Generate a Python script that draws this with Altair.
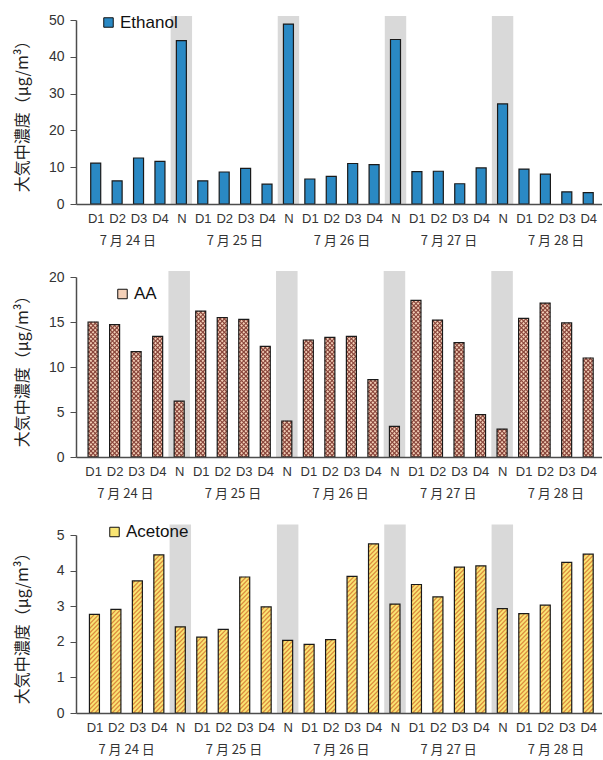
import json
import altair as alt
import pandas as pd

# ---------------- data ----------------
days = ["7 月 24 日", "7 月 25 日", "7 月 26 日", "7 月 27 日", "7 月 28 日"]
day_slots = [
    ["D1", "D2", "D3", "D4", "N"],
    ["D1", "D2", "D3", "D4", "N"],
    ["D1", "D2", "D3", "D4", "N"],
    ["D1", "D2", "D3", "D4", "N"],
    ["D1", "D2", "D3", "D4"],
]
ethanol = [11.1, 6.3, 12.5, 11.6, 44.4,
           6.3, 8.7, 9.7, 5.4, 48.9,
           6.8, 7.5, 11.0, 10.7, 44.7,
           8.8, 8.9, 5.5, 9.8, 27.2,
           9.5, 8.1, 3.3, 3.1]
aa = [15.0, 14.7, 11.7, 13.4, 6.2,
      16.2, 15.5, 15.3, 12.3, 4.0,
      13.0, 13.3, 13.4, 8.6, 3.4,
      17.4, 15.2, 12.7, 4.7, 3.1,
      15.4, 17.1, 14.9, 11.0]
acetone = [2.77, 2.91, 3.71, 4.44, 2.42,
           2.13, 2.35, 3.82, 2.98, 2.04,
           1.93, 2.06, 3.84, 4.75, 3.06,
           3.61, 3.26, 4.10, 4.13, 2.93,
           2.79, 3.03, 4.23, 4.46]

rows = []
for d, slots in zip(days, day_slots):
    for s in slots:
        rows.append({"idx": len(rows), "slot": s, "day": d})
base_df = pd.DataFrame(rows)
cat_labels = [r["slot"] for r in rows]

LATIN = "Liberation Sans"
CJK = "Noto Sans CJK JP"
YTITLE = "大気中濃度（μg/m³）"
PLOT_W = 526


def panel(name, values, ymax, ystep, h, xdom, step_px, gray_px, fill,
          legend_fill, legend_xy, hatch=None):
    df = base_df.copy()
    df["v"] = values
    df["series"] = name
    pxu = h / ymax
    hwx = 5.0 / step_px
    wy = 10.0 / pxu

    xs = alt.Scale(domain=xdom, nice=False, zero=False)
    ys = alt.Scale(domain=[0, ymax], nice=False)
    xaxis = alt.Axis(values=list(range(len(cat_labels))),
                     labelExpr=json.dumps(cat_labels) + "[datum.value]",
                     title=None, grid=False, ticks=False, labelPadding=8,
                     labelFontSize=13, labelFont=LATIN, labelColor="#333333",
                     labelAngle=0, labelOverlap=False, labelFlush=False,
                     domainColor="#4d4d4d", domainWidth=1.5, zindex=1)
    yvals = [round(i * ystep, 6) for i in range(int(round(ymax / ystep)) + 1)]
    yaxis = alt.Axis(values=yvals, title=YTITLE, titleFont=CJK, titleFontSize=16,
                     titleFontWeight="normal", titleColor="#222222", titlePadding=18,
                     labelFont=LATIN, labelFontSize=14, labelColor="#333333",
                     tickSize=6, labelPadding=6, tickColor="#4d4d4d",
                     domainColor="#4d4d4d", domainWidth=1.5, grid=False,
                     minExtent=28, maxExtent=28, zindex=1)

    def X(f):
        return alt.X(f, type="quantitative", scale=xs, axis=xaxis)

    def Y(f):
        return alt.Y(f, type="quantitative", scale=ys, axis=yaxis)

    c = alt.Chart(df)
    shade = c.transform_filter("datum.slot == 'N'").transform_calculate(
        x0="datum.idx - 0.5").transform_calculate(
        x1="datum.idx + 0.5").mark_rect(color="#d9d9d9").encode(
        x=X("x0"), x2="x1", y=alt.value(h), y2=alt.value(gray_px))

    bars = c.mark_bar(width=10, orient="vertical").encode(
        x=X("idx"), y=Y("v"),
        color=alt.Color("series:N",
                        scale=alt.Scale(domain=[name], range=[fill]),
                        legend=alt.Legend(title=None, orient="none",
                                          legendX=legend_xy[0], legendY=legend_xy[1],
                                          symbolType="square", symbolSize=90,
                                          symbolFillColor=legend_fill,
                                          symbolStrokeColor="#111111",
                                          symbolStrokeWidth=1, symbolOpacity=1,
                                          labelFontSize=17, labelFont=LATIN,
                                          labelColor="#111111", labelOffset=3,
                                          padding=0)))
    layers = [shade, bars]

    if hatch is not None:
        period, color, lw, dirs = hatch
        sy = period / pxu
        hl = c.transform_calculate(k="sequence(0, 70)").transform_flatten(["k"]) \
            .transform_calculate(dirs=json.dumps(dirs)).transform_flatten(["dirs"]) \
            .transform_calculate(yL=f"datum.k * {sy} - {wy}") \
            .transform_filter(f"datum.yL + {wy} > 0 && datum.yL < datum.v") \
            .transform_calculate(t0=f"max(0, -datum.yL / {wy})") \
            .transform_calculate(t1=f"min(1, (datum.v - datum.yL) / {wy})") \
            .transform_calculate(xa=f"datum.idx + datum.dirs * (-{hwx} + datum.t0 * {2 * hwx})") \
            .transform_calculate(xb=f"datum.idx + datum.dirs * (-{hwx} + datum.t1 * {2 * hwx})") \
            .transform_calculate(ya=f"datum.yL + datum.t0 * {wy}") \
            .transform_calculate(yb=f"datum.yL + datum.t1 * {wy}") \
            .mark_rule(color=color, strokeWidth=lw).encode(
                x=X("xa"), x2="xb", y=Y("ya"), y2="yb")
        layers.append(hl)

    outline = c.mark_bar(width=10, orient="vertical", fill="transparent",
                         stroke="#1a1a1a", strokeWidth=1.2).encode(x=X("idx"), y=Y("v"))
    layers.append(outline)

    dates = c.transform_filter("datum.slot != 'N'").transform_aggregate(
        mid="mean(idx)", groupby=["day"]).mark_text(
        font=CJK, fontSize=13, color="#333333", baseline="middle").encode(
        x=X("mid"), y=alt.value(h + 37), text="day:N")
    layers.append(dates)

    return alt.layer(*layers).properties(width=PLOT_W, height=h)


p1 = panel("Ethanol", ethanol, 50, 10, 184, [-0.687, 23.41], 21.83, -4,
           "#2a89c4", "#2a89c4", (24, -6))
p2 = panel("AA", aa, 20, 5, 180, [-0.561, 23.41], 21.94, -6,
           "#f4d0b8", "#b87e6c", (38, 8.5),
           hatch=(4.4, "#88443a", 1.1, [1, -1]))
p3 = panel("Acetone", acetone, 5, 1, 178, [-0.626, 23.41], 21.88, -10.5,
           "#f9e573", "#f2cc60", (30, -11.5),
           hatch=(4.5, "#dc8b3e", 1.15, [1]))

chart = alt.concat(p1, p2, p3, columns=1, spacing=22, align="each").resolve_scale(
    color="independent", x="independent", y="independent").resolve_legend(
    color="independent").properties(
    padding={"left": 14, "top": 13, "right": 0, "bottom": 0},
    background="white").configure_view(stroke=None)

chart.save("out.html", embed_options={"renderer": "svg", "actions": False})
